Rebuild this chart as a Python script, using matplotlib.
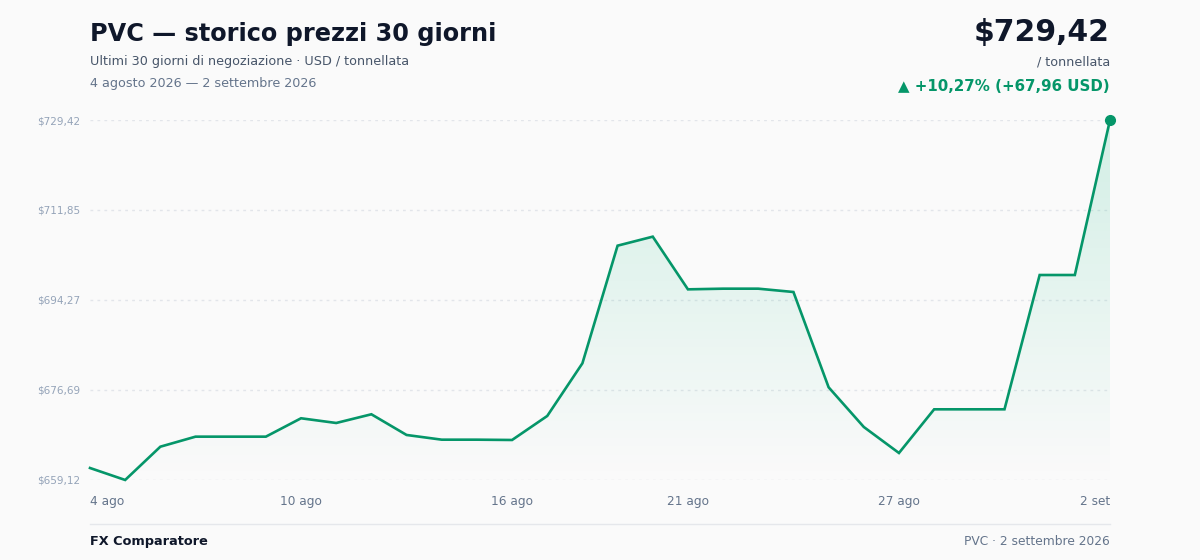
import numpy as np
import matplotlib
matplotlib.use('Agg')
from matplotlib import pyplot as plt
from matplotlib.colors import LinearSegmentedColormap
from matplotlib.patches import Polygon
from matplotlib.lines import Line2D

# PVC daily prices, 4 ago -> 2 set 2026 (USD / tonnellata)
prices = [661.46, 659.12, 665.62, 667.58, 667.58, 667.58, 671.17, 670.25,
          671.95, 667.91, 666.99, 666.99, 666.93, 671.62, 681.91, 704.88,
          706.64, 696.35, 696.48, 696.48, 695.83, 677.22, 669.47, 664.39,
          672.92, 672.92, 672.92, 699.15, 699.15, 729.42]
tick_idx = [0, 6, 12, 17, 23, 29]
tick_labels = ['4 ago', '10 ago', '16 ago', '21 ago', '27 ago', '2 set']

title = 'PVC — storico prezzi 30 giorni'
subtitle = 'Ultimi 30 giorni di negoziazione · USD / tonnellata'
date_range = '4 agosto 2026 — 2 settembre 2026'
footer_left = 'FX Comparatore'
footer_right = 'PVC · 2 settembre 2026'

GREEN = '#059669'
DARK = '#0f172a'
BG = '#fafafa'


def fmt(v):
    return '$' + f'{v:.2f}'.replace('.', ',')


x = np.arange(len(prices))
y = np.array(prices)
lo, hi = y.min(), y.max()

fig = plt.figure(figsize=(12, 5.6), dpi=100, facecolor=BG)
ax = fig.add_axes([0.075, 0.1429, 0.85, 0.6428])
ax.set_facecolor(BG)
ax.set_xlim(0, len(prices) - 1)
ax.set_ylim(lo, hi)

# gradient fill under the line
cmap = LinearSegmentedColormap.from_list(
    'g', [(0.063, 0.725, 0.506, 0.0), (0.063, 0.725, 0.506, 0.17)])
grad = np.linspace(0, 1, 256).reshape(-1, 1)
im = ax.imshow(grad, cmap=cmap, aspect='auto', origin='lower',
               extent=[0, len(prices) - 1, lo, hi], zorder=1)
poly = Polygon(np.column_stack([np.r_[x, x[-1], x[0]], np.r_[y, lo, lo]]),
               closed=True, facecolor='none', edgecolor='none')
ax.add_patch(poly)
im.set_clip_path(poly)

ax.plot(x, y, color=GREEN, lw=1.9, zorder=3, clip_on=False,
        solid_joinstyle='miter')
ax.plot([x[-1]], [y[-1]], 'o', color=GREEN, ms=7, zorder=4, clip_on=False)

yt = np.linspace(lo, hi, 5)
ax.set_yticks(yt)
ax.set_yticklabels([fmt(v) for v in yt])
for v in yt:
    ax.axhline(v, color='#e2e5ea', lw=1, ls=(0, (2, 3)), zorder=0)

ax.set_xticks(tick_idx)
ax.set_xticklabels(tick_labels)
labs = ax.get_xticklabels()
labs[0].set_ha('left')
labs[-1].set_ha('right')

ax.tick_params(axis='y', length=0, pad=7, labelsize=7.5, labelcolor='#94a3b8')
ax.tick_params(axis='x', length=0, pad=11, labelsize=8.7, labelcolor='#64748b')
for s in ax.spines.values():
    s.set_visible(False)

# header
fig.text(0.075, 0.940, title, fontsize=17.3, fontweight='bold', color=DARK,
         va='center', ha='left')
fig.text(0.075, 0.890, subtitle, fontsize=9.2, color='#475569',
         va='center', ha='left')
fig.text(0.075, 0.851, date_range, fontsize=9.2, color='#64748b',
         va='center', ha='left')

chg = y[-1] - y[0]
pct = chg / y[0] * 100
fig.text(0.925, 0.942, fmt(y[-1]), fontsize=21.5, fontweight='bold',
         color=DARK, va='center', ha='right')
fig.text(0.925, 0.890, '/ tonnellata', fontsize=9.2, color='#475569',
         va='center', ha='right')
chg_txt = '▲ +' + f'{pct:.2f}'.replace('.', ',') + '% (+' + \
    f'{chg:.2f}'.replace('.', ',') + ' USD)'
fig.text(0.925, 0.845, chg_txt, fontsize=10.8, fontweight='bold',
         color=GREEN, va='center', ha='right')

# footer
fig.add_artist(Line2D([0.075, 0.925], [0.064, 0.064], color='#e5e7eb',
                      lw=1, transform=fig.transFigure))
fig.text(0.075, 0.033, footer_left, fontsize=9.3, fontweight='bold',
         color=DARK, va='center', ha='left')
fig.text(0.925, 0.033, footer_right, fontsize=8.8, color='#64748b',
         va='center', ha='right')

fig.savefig('out.png', dpi=100, facecolor=BG)
